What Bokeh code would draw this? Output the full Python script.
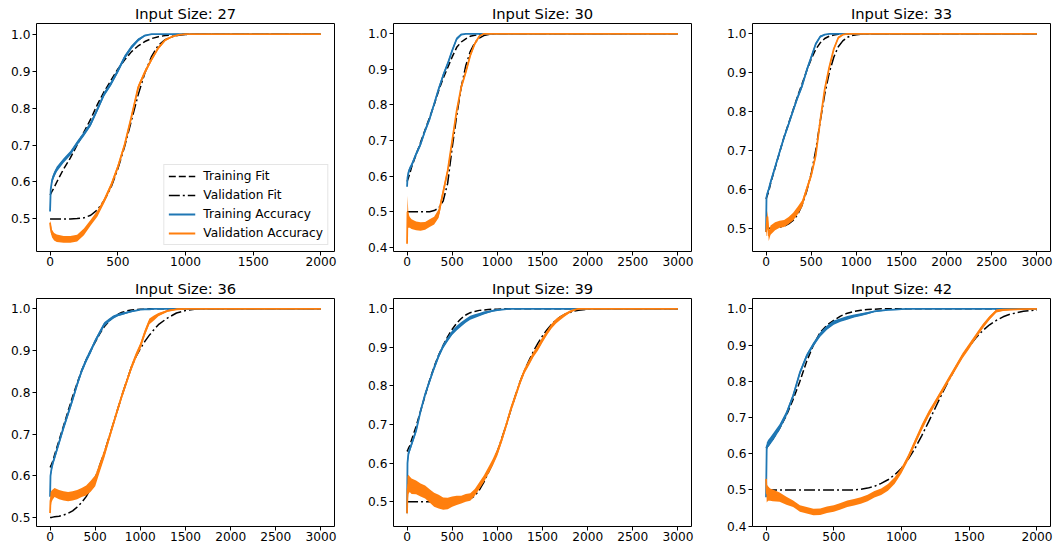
from bokeh.plotting import figure
from bokeh.layouts import column, row
from bokeh.models import FixedTicker, NumeralTickFormatter, Legend, LegendItem, Range1d
from bokeh.embed import file_html
from bokeh.resources import INLINE

# ---------------- data ----------------
titles = ["Input Size: 27", "Input Size: 30", "Input Size: 33",
          "Input Size: 36", "Input Size: 39", "Input Size: 42"]
labels = ["Training Fit", "Validation Fit", "Training Accuracy", "Validation Accuracy"]
x_ticks_2000 = [0, 500, 1000, 1500, 2000]
x_ticks_3000 = [0, 500, 1000, 1500, 2000, 2500, 3000]
y_ticks = [0.4, 0.5, 0.6, 0.7, 0.8, 0.9, 1.0]

# Input size 27
x27 = [0, 5, 15, 30, 50, 100, 150, 200, 250, 300, 350, 400, 450, 500, 550, 600, 650, 700, 750, 800, 850, 900, 950, 1000, 1100, 2000]
train27 = [0.52, 0.58, 0.605, 0.62, 0.635, 0.658, 0.678, 0.705, 0.73, 0.757, 0.797, 0.838, 0.866, 0.90, 0.937, 0.964, 0.984, 0.996, 1.0, 1.0, 1.0, 1.0, 1.0, 1.0, 1.0, 1.0]
train27_spread = [0.0, 0.006, 0.008, 0.008, 0.007, 0.006, 0.006, 0.006, 0.006, 0.006, 0.006, 0.006, 0.006, 0.006, 0.006, 0.005, 0.004, 0.002, 0, 0, 0, 0, 0, 0, 0, 0]
val27 = [0.49, 0.475, 0.46, 0.452, 0.448, 0.445, 0.445, 0.448, 0.465, 0.49, 0.515, 0.55, 0.59, 0.64, 0.70, 0.775, 0.855, 0.897, 0.932, 0.963, 0.984, 0.993, 0.998, 1.0, 1.0, 1.0]
val27_spread = [0.006, 0.012, 0.01, 0.01, 0.01, 0.009, 0.009, 0.009, 0.009, 0.008, 0.008, 0.007, 0.007, 0.007, 0.007, 0.007, 0.007, 0.006, 0.005, 0.004, 0.003, 0.002, 0.001, 0, 0, 0]
train_fit27 = [0.565, 0.568, 0.575, 0.585, 0.60, 0.635, 0.665, 0.70, 0.735, 0.77, 0.81, 0.845, 0.875, 0.905, 0.93, 0.952, 0.968, 0.98, 0.988, 0.993, 0.996, 0.998, 0.999, 1.0, 1.0, 1.0]
val_fit27 = [0.5, 0.5, 0.5, 0.5, 0.5, 0.5, 0.5, 0.501, 0.503, 0.51, 0.525, 0.55, 0.585, 0.635, 0.695, 0.765, 0.835, 0.895, 0.94, 0.97, 0.985, 0.993, 0.997, 0.999, 1.0, 1.0]

# Input size 30
x30 = [0, 5, 15, 30, 50, 100, 150, 200, 250, 300, 350, 400, 450, 500, 550, 600, 650, 700, 750, 800, 850, 900, 950, 1000, 1100, 3000]
train30 = [0.57, 0.595, 0.61, 0.62, 0.63, 0.662, 0.69, 0.728, 0.761, 0.803, 0.845, 0.883, 0.916, 0.953, 0.986, 0.998, 1.0, 1.0, 1.0, 1.0, 1.0, 1.0, 1.0, 1.0, 1.0, 1.0]
train30_spread = [0.0, 0.006, 0.007, 0.007, 0.006, 0.006, 0.006, 0.006, 0.006, 0.006, 0.006, 0.006, 0.005, 0.005, 0.004, 0.002, 0, 0, 0, 0, 0, 0, 0, 0, 0, 0]
val30 = [0.41, 0.50, 0.475, 0.47, 0.465, 0.46, 0.458, 0.46, 0.468, 0.475, 0.495, 0.555, 0.615, 0.70, 0.784, 0.85, 0.892, 0.939, 0.972, 0.993, 1.0, 1.0, 1.0, 1.0, 1.0, 1.0]
val30_spread = [0.01, 0.045, 0.02, 0.015, 0.014, 0.012, 0.012, 0.011, 0.011, 0.011, 0.012, 0.01, 0.008, 0.007, 0.007, 0.006, 0.006, 0.005, 0.004, 0.002, 0, 0, 0, 0, 0, 0]
train_fit30 = [0.585, 0.588, 0.595, 0.607, 0.625, 0.66, 0.695, 0.73, 0.765, 0.80, 0.84, 0.875, 0.905, 0.935, 0.962, 0.977, 0.986, 0.993, 0.996, 0.998, 0.999, 1.0, 1.0, 1.0, 1.0, 1.0]
val_fit30 = [0.5, 0.5, 0.5, 0.5, 0.5, 0.5, 0.5, 0.5, 0.5, 0.503, 0.51, 0.53, 0.58, 0.68, 0.77, 0.85, 0.91, 0.95, 0.975, 0.988, 0.995, 0.998, 0.999, 1.0, 1.0, 1.0]

# Input size 33
x33 = [0, 5, 15, 30, 50, 100, 150, 200, 250, 300, 350, 400, 450, 500, 550, 600, 650, 700, 750, 800, 850, 900, 950, 1000, 1100, 3000]
train33 = [0.49, 0.58, 0.59, 0.60, 0.618, 0.657, 0.696, 0.734, 0.768, 0.803, 0.837, 0.867, 0.906, 0.94, 0.974, 0.993, 0.998, 1.0, 1.0, 1.0, 1.0, 1.0, 1.0, 1.0, 1.0, 1.0]
train33_spread = [0.0, 0.006, 0.006, 0.006, 0.006, 0.006, 0.006, 0.006, 0.006, 0.006, 0.006, 0.006, 0.006, 0.005, 0.004, 0.003, 0.001, 0, 0, 0, 0, 0, 0, 0, 0, 0]
val33 = [0.49, 0.50, 0.53, 0.48, 0.495, 0.505, 0.51, 0.512, 0.52, 0.53, 0.545, 0.563, 0.60, 0.636, 0.687, 0.777, 0.858, 0.914, 0.961, 0.99, 0.998, 1.0, 1.0, 1.0, 1.0, 1.0]
val33_spread = [0.01, 0.02, 0.015, 0.013, 0.012, 0.01, 0.009, 0.009, 0.009, 0.01, 0.01, 0.009, 0.008, 0.007, 0.007, 0.007, 0.006, 0.005, 0.004, 0.003, 0.001, 0, 0, 0, 0, 0]
train_fit33 = [0.575, 0.578, 0.585, 0.595, 0.615, 0.655, 0.695, 0.735, 0.77, 0.805, 0.84, 0.872, 0.905, 0.935, 0.96, 0.977, 0.988, 0.994, 0.997, 0.999, 1.0, 1.0, 1.0, 1.0, 1.0, 1.0]
val_fit33 = [0.5, 0.5, 0.5, 0.5, 0.5, 0.501, 0.503, 0.505, 0.511, 0.52, 0.535, 0.56, 0.595, 0.64, 0.70, 0.775, 0.845, 0.90, 0.94, 0.967, 0.982, 0.991, 0.996, 0.998, 1.0, 1.0]

# Input size 36
x36 = [0, 5, 15, 30, 50, 100, 150, 200, 250, 300, 350, 400, 450, 500, 550, 600, 650, 700, 750, 800, 850, 900, 950, 1000, 1050, 1100, 1150, 1200, 1300, 1400, 1500, 1600, 1700, 3000]
train36 = [0.55, 0.60, 0.615, 0.63, 0.644, 0.68, 0.716, 0.749, 0.783, 0.819, 0.851, 0.877, 0.899, 0.923, 0.943, 0.963, 0.972, 0.98, 0.985, 0.988, 0.991, 0.994, 0.996, 0.998, 0.999, 0.999, 1.0, 1.0, 1.0, 1.0, 1.0, 1.0, 1.0, 1.0]
train36_spread = [0.0, 0.006, 0.006, 0.006, 0.006, 0.006, 0.006, 0.006, 0.006, 0.006, 0.006, 0.006, 0.006, 0.005, 0.005, 0.005, 0.004, 0.004, 0.003, 0.003, 0.002, 0.002, 0.001, 0.001, 0, 0, 0, 0, 0, 0, 0, 0, 0, 0]
val36 = [0.511, 0.54, 0.55, 0.555, 0.56, 0.555, 0.552, 0.55, 0.552, 0.555, 0.56, 0.565, 0.575, 0.588, 0.62, 0.652, 0.688, 0.724, 0.76, 0.795, 0.827, 0.859, 0.887, 0.911, 0.943, 0.97, 0.978, 0.986, 0.995, 0.999, 1.0, 1.0, 1.0, 1.0]
val36_spread = [0.01, 0.02, 0.014, 0.012, 0.011, 0.011, 0.011, 0.011, 0.011, 0.011, 0.011, 0.012, 0.013, 0.013, 0.011, 0.01, 0.008,
                0.007, 0.007, 0.007, 0.007, 0.007, 0.007, 0.007, 0.007, 0.007, 0.006, 0.004, 0.002, 0.001, 0, 0, 0, 0]
train_fit36 = [0.62, 0.622, 0.627, 0.635, 0.65, 0.685, 0.72, 0.755, 0.79, 0.822, 0.852, 0.878, 0.90, 0.92, 0.94, 0.957, 0.97, 0.98, 0.987, 0.992, 0.995, 0.997, 0.998, 0.999, 0.999, 1.0, 1.0, 1.0, 1.0, 1.0, 1.0, 1.0, 1.0, 1.0]
val_fit36 = [0.5, 0.5, 0.5, 0.501, 0.502, 0.503, 0.506, 0.51, 0.516, 0.525, 0.536, 0.55, 0.57, 0.595, 0.625, 0.655, 0.69, 0.725, 0.76, 0.795, 0.828, 0.86, 0.885, 0.905, 0.922, 0.937, 0.95, 0.962, 0.978, 0.99, 0.996, 0.999, 1.0, 1.0]

# Input size 39
x39 = [0, 5, 15, 30, 50, 100, 150, 200, 250, 300, 350, 400, 450, 500, 550, 600, 650, 700, 750, 800, 850, 900, 950, 1000, 1050, 1100, 1150, 1200, 1250, 1300, 1350, 1400, 1450, 1500, 1550, 1600, 1650, 1700, 1750, 1800, 1850, 1900, 2000, 2100, 3000]
train39 = [0.47, 0.60, 0.625, 0.635, 0.649, 0.684, 0.735, 0.778, 0.813, 0.847, 0.878, 0.903, 0.921, 0.938, 0.95, 0.96, 0.969, 0.977, 0.981, 0.985, 0.989, 0.992, 0.995, 0.997, 0.998, 0.999,
           1.0, 1.0, 1.0, 1.0, 1.0, 1.0, 1.0, 1.0, 1.0, 1.0, 1.0, 1.0, 1.0, 1.0, 1.0, 1.0, 1.0, 1.0, 1.0]
train39_spread = [0.0, 0.01, 0.008, 0.007, 0.006, 0.006, 0.006, 0.006, 0.006, 0.006, 0.006, 0.006, 0.006, 0.006, 0.006, 0.006, 0.005, 0.005, 0.005, 0.004, 0.004, 0.003, 0.002, 0.002, 0.001, 0.001,
                  0, 0, 0, 0, 0, 0, 0, 0, 0, 0, 0, 0, 0, 0, 0, 0, 0, 0, 0]
val39 = [0.47, 0.53, 0.545, 0.545, 0.54, 0.537, 0.53, 0.525, 0.515, 0.505, 0.50, 0.495, 0.495, 0.50, 0.503, 0.505, 0.51, 0.512, 0.524, 0.541, 0.559, 0.58, 0.602, 0.628, 0.662, 0.70, 0.74, 0.774, 0.809, 0.839, 0.86, 0.882, 0.899, 0.92, 0.938, 0.955, 0.968, 0.977, 0.985, 0.992, 0.997, 1.0, 1.0, 1.0, 1.0]
val39_spread = [0.01, 0.035, 0.025, 0.02, 0.02, 0.018, 0.017, 0.017, 0.017, 0.018, 0.018, 0.016, 0.015, 0.013, 0.012, 0.01, 0.01, 0.01, 0.009, 0.009,
                0.009, 0.009, 0.009, 0.009, 0.008, 0.008, 0.008, 0.008, 0.007, 0.007, 0.007, 0.007, 0.007, 0.007, 0.006, 0.006, 0.006, 0.005, 0.004, 0.003,
                0.002, 0.001, 0, 0, 0]
train_fit39 = [0.63, 0.632, 0.638, 0.645, 0.66, 0.695, 0.735, 0.775, 0.815, 0.85, 0.88, 0.905, 0.928, 0.947, 0.963, 0.975, 0.984, 0.99, 0.993, 0.996, 0.997, 0.998, 0.999, 0.999,
               1.0, 1.0, 1.0, 1.0, 1.0, 1.0, 1.0, 1.0, 1.0, 1.0, 1.0, 1.0, 1.0, 1.0, 1.0, 1.0, 1.0, 1.0, 1.0, 1.0, 1.0]
val_fit39 = [0.5, 0.5, 0.5, 0.5, 0.5, 0.5, 0.5, 0.5, 0.5, 0.5, 0.5, 0.5, 0.5, 0.5, 0.501, 0.502, 0.504, 0.507, 0.515, 0.53, 0.55, 0.575, 0.60, 0.63,
             0.665, 0.70, 0.738, 0.775, 0.81, 0.84, 0.866, 0.89, 0.911, 0.93, 0.946, 0.96, 0.971, 0.98, 0.986, 0.99, 0.994, 0.996, 0.999, 1.0, 1.0]

# Input size 42
x42 = [0, 5, 15, 30, 50, 100, 150, 200, 250, 300, 350, 400, 450, 500, 550, 600, 650, 700, 750, 800, 850, 900, 950, 1000, 1050, 1100, 1150, 1200, 1250, 1300, 1350, 1400, 1450, 1500, 1550, 1600, 1650, 1700, 1750, 1800, 1900, 2000]
train42 = [0.48, 0.62, 0.628, 0.635, 0.645, 0.673, 0.71, 0.76, 0.824, 0.87, 0.902, 0.929, 0.948, 0.962, 0.969, 0.975, 0.98, 0.984, 0.988, 0.993, 0.995, 0.997, 0.998, 0.999,
           1.0, 1.0, 1.0, 1.0, 1.0, 1.0, 1.0, 1.0, 1.0, 1.0, 1.0, 1.0, 1.0, 1.0, 1.0, 1.0, 1.0, 1.0]
train42_spread = [0.0, 0.01, 0.01, 0.01, 0.01, 0.008, 0.007, 0.006, 0.006, 0.006, 0.006, 0.006, 0.006, 0.006, 0.005, 0.005, 0.004, 0.004, 0.003, 0.002, 0.002, 0.001, 0.001, 0,
                  0, 0, 0, 0, 0, 0, 0, 0, 0, 0, 0, 0, 0, 0, 0, 0, 0, 0]
val42 = [0.53, 0.49, 0.49, 0.487, 0.485, 0.48, 0.47, 0.462, 0.449, 0.444, 0.439, 0.44, 0.445, 0.449, 0.455, 0.462, 0.466, 0.471, 0.478, 0.488, 0.495, 0.507, 0.526, 0.554, 0.59, 0.632, 0.673, 0.71, 0.742, 0.774, 0.806, 0.838, 0.87, 0.897, 0.925, 0.952, 0.975, 0.994, 0.997, 0.998, 0.999, 1.0]
val42_spread = [0.01, 0.025, 0.02, 0.017, 0.016, 0.013, 0.011,
                0.009, 0.009, 0.009, 0.009, 0.009, 0.009, 0.009, 0.009, 0.009, 0.009, 0.009, 0.009, 0.009, 0.009, 0.009, 0.009,
                0.008, 0.008, 0.008, 0.008, 0.008,
                0.007, 0.007, 0.007, 0.007, 0.007, 0.007,
                0.006, 0.006, 0.005, 0.004, 0.003, 0.002, 0.001, 0]
train_fit42 = [0.615, 0.617, 0.622, 0.63, 0.64, 0.67, 0.705, 0.75, 0.80, 0.855, 0.90, 0.935, 0.955, 0.968, 0.98, 0.988, 0.993, 0.996, 0.998, 0.999,
               1.0, 1.0, 1.0, 1.0, 1.0, 1.0, 1.0, 1.0, 1.0, 1.0, 1.0, 1.0, 1.0, 1.0, 1.0, 1.0, 1.0, 1.0, 1.0, 1.0, 1.0, 1.0]
val_fit42 = [0.5, 0.5, 0.5, 0.5, 0.5, 0.5, 0.5, 0.5, 0.5, 0.5, 0.5, 0.5, 0.5, 0.5, 0.5, 0.5, 0.5,
             0.502, 0.505, 0.51, 0.518, 0.528, 0.542, 0.56, 0.585, 0.615, 0.65, 0.688, 0.727, 0.766, 0.803, 0.838, 0.87, 0.897, 0.92, 0.94, 0.956, 0.968, 0.978, 0.985, 0.993, 0.997]

panels = [
    (x27, train27, train27_spread, val27, val27_spread, train_fit27, val_fit27),
    (x30, train30, train30_spread, val30, val30_spread, train_fit30, val_fit30),
    (x33, train33, train33_spread, val33, val33_spread, train_fit33, val_fit33),
    (x36, train36, train36_spread, val36, val36_spread, train_fit36, val_fit36),
    (x39, train39, train39_spread, val39, val39_spread, train_fit39, val_fit39),
    (x42, train42, train42_spread, val42, val42_spread, train_fit42, val_fit42),
]
x_ranges = [(-100, 2100), (-150, 3150), (-150, 3150), (-150, 3150), (-150, 3150), (-100, 2100)]
y_ranges = [(0.412, 1.0287), (0.388, 1.029), (0.440, 1.0267),
            (0.4785, 1.0248), (0.4355, 1.0268), (0.399, 1.0285)]

# ---------------- styling / layout ----------------
BLUE = "#1f77b4"
ORANGE = "#ff7f0e"
FONT = "DejaVu Sans"
col_w = [357, 359, 340]
col_right = [23, 25, 6]
ROW_H = 275

figs = []
for i, (title, data) in enumerate(zip(titles, panels)):
    xs, tr, trs, va, vas, tf, vf = data
    for arr in (tr, trs, va, vas, tf, vf):
        assert len(arr) == len(xs), (title, len(arr), len(xs))
    c = i % 3
    p = figure(width=col_w[c], height=ROW_H, output_backend="svg", toolbar_location=None,
               x_range=Range1d(*x_ranges[i]), y_range=Range1d(*y_ranges[i]),
               min_border_left=36, min_border_right=col_right[c],
               min_border_top=23, min_border_bottom=24, title=title)
    p.title.text_font = FONT
    p.title.text_font_size = "14.7px"
    p.title.text_font_style = "normal"
    p.title.align = "center"
    p.title.text_color = "black"
    p.title.standoff = 3
    p.grid.visible = False
    p.background_fill_color = "white"
    p.border_fill_color = "white"
    p.outline_line_color = "black"
    p.outline_line_width = 1.0
    p.outline_line_alpha = 1.0

    xt = x_ticks_2000 if x_ranges[i][1] < 2500 else x_ticks_3000
    p.xaxis.ticker = FixedTicker(ticks=xt)
    p.xaxis.formatter = NumeralTickFormatter(format="0")
    p.yaxis.ticker = FixedTicker(ticks=y_ticks)
    p.yaxis.formatter = NumeralTickFormatter(format="0.0")
    for ax in (p.xaxis, p.yaxis):
        ax.axis_line_color = None
        ax.major_tick_out = 4
        ax.major_tick_in = 0
        ax.minor_tick_line_color = None
        ax.major_tick_line_color = "black"
        ax.major_tick_line_width = 1.0
        ax.major_label_text_font = FONT
        ax.major_label_text_font_size = "12.2px"
        ax.major_label_text_color = "black"
    p.xaxis.major_label_standoff = 1
    p.yaxis.major_label_standoff = 2

    tf_r = p.line(xs, tf, line_color="black", line_width=1.5, line_dash="7 3")
    vf_r = p.line(xs, vf, line_color="black", line_width=1.5, line_dash="11 3 2 3")
    tr_lo = [a - b for a, b in zip(tr, trs)]
    tr_hi = [a + b for a, b in zip(tr, trs)]
    va_lo = [a - b for a, b in zip(va, vas)]
    va_hi = [a + b for a, b in zip(va, vas)]
    p.varea(x=xs, y1=tr_lo, y2=tr_hi, fill_color=BLUE, fill_alpha=1.0)
    tr_r = p.line(xs, tr, line_color=BLUE, line_width=1.8)
    p.varea(x=xs, y1=va_lo, y2=va_hi, fill_color=ORANGE, fill_alpha=1.0)
    va_r = p.line(xs, va, line_color=ORANGE, line_width=1.8)

    if i == 0:
        legend = Legend(items=[LegendItem(label=labels[0], renderers=[tf_r]),
                               LegendItem(label=labels[1], renderers=[vf_r]),
                               LegendItem(label=labels[2], renderers=[tr_r]),
                               LegendItem(label=labels[3], renderers=[va_r])],
                        location="bottom_right")
        legend.label_text_font = FONT
        legend.label_text_font_size = "12.2px"
        legend.label_text_color = "black"
        legend.glyph_width = 27
        legend.glyph_height = 14
        legend.label_height = 14
        legend.spacing = 5
        legend.padding = 4
        legend.margin = 6
        legend.label_standoff = 8
        legend.border_line_color = "#cccccc"
        legend.border_line_width = 1
        legend.background_fill_alpha = 0.8
        p.add_layout(legend)
    figs.append(p)

layout = column(row(*figs[:3], spacing=0), row(*figs[3:], spacing=0), spacing=0)
open("out.html", "w").write(file_html(layout, INLINE))
